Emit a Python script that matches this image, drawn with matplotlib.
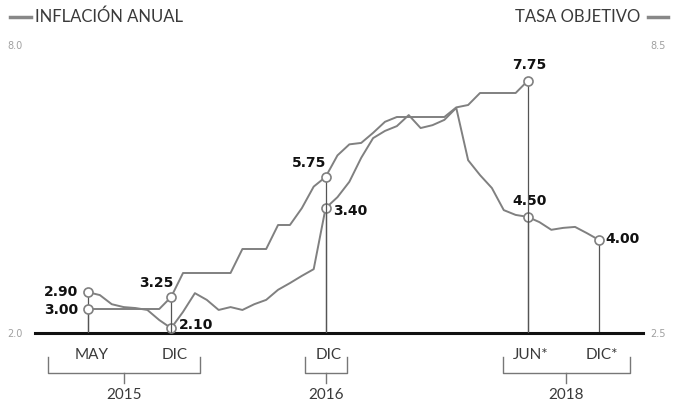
import numpy as np
import matplotlib
matplotlib.use('Agg')
import matplotlib.pyplot as plt
from matplotlib.lines import Line2D

# meses desde mayo 2015 (0) hasta diciembre 2018 (43)
inflacion = [2.85, 2.79, 2.60, 2.54, 2.52, 2.48, 2.27, 2.10, 2.44, 2.83,
             2.69, 2.48, 2.54, 2.48, 2.60, 2.69, 2.90, 3.04, 3.19, 3.33,
             4.60, 4.83, 5.15, 5.65, 6.06, 6.21, 6.31, 6.54, 6.27, 6.33,
             6.44, 6.69, 5.60, 5.29, 5.02, 4.56, 4.46, 4.42, 4.31, 4.15,
             4.19, 4.21, 4.08, 3.94]
tasa = [3.00, 3.00, 3.00, 3.00, 3.00, 3.00, 3.00, 3.25, 3.75, 3.75,
        3.75, 3.75, 3.75, 4.25, 4.25, 4.25, 4.75, 4.75, 5.10, 5.55,
        5.75, 6.20, 6.43, 6.46, 6.67, 6.90, 7.00, 7.00, 7.00, 7.00,
        7.00, 7.20, 7.25, 7.50, 7.50, 7.50, 7.50, 7.75]

# meses marcados
marcas = [0, 7, 20, 37, 43]
etiquetas_mes = ['MAY', 'DIC', 'DIC', 'JUN*', 'DIC*']
anios = ['2015', '2016', '2018']
txt_inf = {0: '2.90', 7: '2.10', 20: '3.40', 37: '4.50', 43: '4.00'}
txt_tasa = {0: '3.00', 7: '3.25', 20: '5.75', 37: '7.75'}

x_inf = np.arange(len(inflacion))
x_tasa = np.arange(len(tasa))

gris = '#808080'
px = 0.72  # puntos por pixel
ligera = dict(family='Lato', fontweight='normal', color='#3a3a3a')

fig = plt.figure(figsize=(6.75, 4.08), dpi=100)
ax = fig.add_axes([35/675, 75/408, 608/675, 288/408])
ax2 = ax.twinx()

ax.set_xlim(-4.46, 46.72)
ax.set_ylim(2.0, 8.0)
ax2.set_ylim(2.5, 8.5)

ax.plot(x_inf, inflacion, color=gris, lw=1.4, zorder=3)
ax2.plot(x_tasa, tasa, color=gris, lw=1.4, zorder=3)

# lineas verticales
for m in marcas:
    if m < len(inflacion):
        ax.plot([m, m], [2.0, inflacion[m]], color='#555555', lw=0.9, zorder=2)
    if m < len(tasa):
        ax2.plot([m, m], [2.5, tasa[m]], color='#555555', lw=0.9, zorder=2)

# circulos
ax.plot(marcas, [inflacion[m] for m in marcas], 'o', ms=6.5, mfc='white',
        mec=gris, mew=1.2, zorder=5, clip_on=False)
mt = [m for m in marcas if m < len(tasa)]
ax2.plot(mt, [tasa[m] for m in mt], 'o', ms=6.5, mfc='white',
         mec=gris, mew=1.2, zorder=5, clip_on=False)

bold = dict(fontsize=10, fontweight='bold', color='#111111', va='center',
            family='DejaVu Sans')
off_inf = {0: (-10, 0, 'right'), 7: (8, 3, 'left'), 20: (8, -3, 'left'),
           37: (2, 16, 'center'), 43: (7, 1, 'left')}
off_tasa = {0: (-10, -1, 'right'), 7: (2, 14, 'right'), 20: (1, 14, 'right'),
            37: (2, 16, 'center')}
for m, t in txt_inf.items():
    dx, dy, ha = off_inf[m]
    ax.annotate(t, (m, inflacion[m]), xytext=(dx*px, dy*px),
                textcoords='offset points', ha=ha, zorder=6, **bold)
for m, t in txt_tasa.items():
    dx, dy, ha = off_tasa[m]
    ax2.annotate(t, (m, tasa[m]), xytext=(dx*px, dy*px),
                 textcoords='offset points', ha=ha, zorder=6, **bold)

# linea base
ax.axhline(2.0, color='#111111', lw=2.2, zorder=4, clip_on=False)

for a in (ax, ax2):
    for s in a.spines.values():
        s.set_visible(False)
    a.tick_params(length=0, labelsize=7, labelcolor='#a0a0a0')
    a.set_xticks([])
ax.set_yticks([2.0, 8.0])
ax.set_yticklabels(['2.0', '8.0'])
ax.tick_params(axis='y', pad=9)
ax2.set_yticks([2.5, 8.5])
ax2.set_yticklabels(['2.5', '8.5'])
ax2.tick_params(axis='y', pad=5)

# etiquetas de meses
tr = ax.get_xaxis_transform()
for m, t in zip(marcas, etiquetas_mes):
    ax.text(m + 0.3, -0.076, t, transform=tr, ha='center', va='center',
            fontsize=11, **ligera)

# llaves por anio
llaves = [(-3.35, 9.44), (18.3, 21.8), (34.9, 45.6)]
for (a, b), anio in zip(llaves, anios):
    c = (a + b) / 2
    ax.plot([a, a, b, b], [-0.083, -0.139, -0.139, -0.083], transform=tr,
            color='#777777', lw=1.0, clip_on=False)
    ax.plot([c, c], [-0.139, -0.172], transform=tr, color='#777777',
            lw=1.0, clip_on=False)
    ax.text(c, -0.215, anio, transform=tr, ha='center', va='center',
            fontsize=11, **ligera)

# encabezados
fig.text(35/675, 1 - 17/408, 'INFLACIÓN ANUAL', ha='left', va='center',
         fontsize=12, **ligera)
fig.text(640/675, 1 - 17/408, 'TASA OBJETIVO', ha='right', va='center',
         fontsize=12, **ligera)
fig.lines.append(Line2D([10/675, 31/675], [1 - 17/408]*2, color='#888888',
                        lw=2.5, transform=fig.transFigure))
fig.lines.append(Line2D([648/675, 668/675], [1 - 17/408]*2, color='#888888',
                        lw=2.5, transform=fig.transFigure))

fig.savefig('out.png', dpi=100)
